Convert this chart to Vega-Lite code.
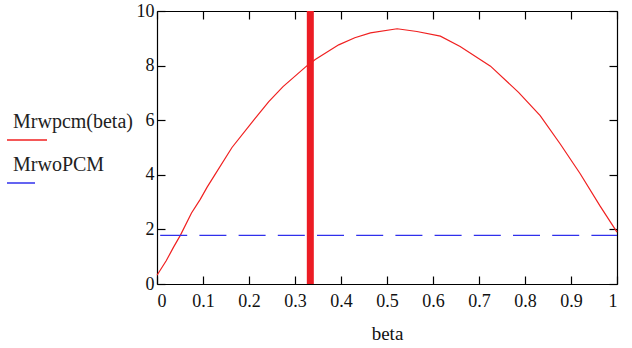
{
  "$schema": "https://vega.github.io/schema/vega-lite/v6.json",
  "width": 460,
  "height": 273,
  "autosize": "none",
  "padding": {"left": 157, "top": 11, "right": 15, "bottom": 64},
  "background": "white",
  "config": {
    "font": "Liberation Serif",
    "view": {"stroke": null},
    "axis": {
      "grid": false,
      "domainColor": "#000",
      "domainWidth": 1.2,
      "tickColor": "#000",
      "tickWidth": 1.2,
      "tickSize": -8,
      "labelFont": "Liberation Serif",
      "labelFontSize": 18,
      "labelColor": "#111",
      "titleFont": "Liberation Serif",
      "titleFontSize": 19,
      "titleFontWeight": "normal",
      "titleColor": "#111"
    }
  },
  "datasets": {
    "curve": [
      {"beta": 0.0, "M": 0.32, "series": "Mrwpcm(beta)"},
      {"beta": 0.02, "M": 0.85, "series": "Mrwpcm(beta)"},
      {"beta": 0.036, "M": 1.35, "series": "Mrwpcm(beta)"},
      {"beta": 0.051, "M": 1.79, "series": "Mrwpcm(beta)"},
      {"beta": 0.075, "M": 2.6, "series": "Mrwpcm(beta)"},
      {"beta": 0.094, "M": 3.1, "series": "Mrwpcm(beta)"},
      {"beta": 0.109, "M": 3.55, "series": "Mrwpcm(beta)"},
      {"beta": 0.125, "M": 3.98, "series": "Mrwpcm(beta)"},
      {"beta": 0.163, "M": 5.0, "series": "Mrwpcm(beta)"},
      {"beta": 0.212, "M": 6.04, "series": "Mrwpcm(beta)"},
      {"beta": 0.243, "M": 6.68, "series": "Mrwpcm(beta)"},
      {"beta": 0.274, "M": 7.23, "series": "Mrwpcm(beta)"},
      {"beta": 0.325, "M": 7.98, "series": "Mrwpcm(beta)"},
      {"beta": 0.344, "M": 8.22, "series": "Mrwpcm(beta)"},
      {"beta": 0.395, "M": 8.76, "series": "Mrwpcm(beta)"},
      {"beta": 0.43, "M": 9.02, "series": "Mrwpcm(beta)"},
      {"beta": 0.464, "M": 9.2, "series": "Mrwpcm(beta)"},
      {"beta": 0.522, "M": 9.35, "series": "Mrwpcm(beta)"},
      {"beta": 0.565, "M": 9.25, "series": "Mrwpcm(beta)"},
      {"beta": 0.616, "M": 9.08, "series": "Mrwpcm(beta)"},
      {"beta": 0.659, "M": 8.7, "series": "Mrwpcm(beta)"},
      {"beta": 0.725, "M": 7.98, "series": "Mrwpcm(beta)"},
      {"beta": 0.786, "M": 7.02, "series": "Mrwpcm(beta)"},
      {"beta": 0.833, "M": 6.17, "series": "Mrwpcm(beta)"},
      {"beta": 0.877, "M": 5.12, "series": "Mrwpcm(beta)"},
      {"beta": 0.92, "M": 4.04, "series": "Mrwpcm(beta)"},
      {"beta": 0.963, "M": 2.86, "series": "Mrwpcm(beta)"},
      {"beta": 1.0, "M": 1.9, "series": "Mrwpcm(beta)"}
    ],
    "flat": [
      {"beta": 0.0, "M": 1.78, "series": "MrwoPCM"},
      {"beta": 1.0, "M": 1.78, "series": "MrwoPCM"}
    ],
    "marker": [
      {"beta": 0.3333}
    ]
  },
  "layer": [
    {
      "data": {"name": "marker"},
      "mark": {"type": "rule", "color": "#ec1c24", "size": 7},
      "encoding": {
        "x": {"field": "beta", "type": "quantitative", "axis": null}
      }
    },
    {
      "data": {"name": "curve"},
      "mark": {"type": "line", "strokeWidth": 1.2},
      "encoding": {
        "x": {
          "field": "beta", "type": "quantitative",
          "scale": {"domain": [0, 1], "nice": false, "zero": false},
          "axis": {"orient": "bottom", "title": "beta", "values": [0, 0.1, 0.2, 0.3, 0.4, 0.5, 0.6, 0.7, 0.8, 0.9, 1], "format": "~g", "labelPadding": 16, "titlePadding": 14}
        },
        "y": {
          "field": "M", "type": "quantitative",
          "scale": {"domain": [0, 10], "nice": false},
          "axis": {"orient": "left", "title": null, "values": [0, 2, 4, 6, 8, 10], "labelPadding": 11}
        },
        "color": {
          "field": "series", "type": "nominal",
          "scale": {"domain": ["Mrwpcm(beta)", "MrwoPCM"], "range": ["#f02020", "#3030ec"]},
          "legend": {
            "orient": "none", "legendX": -150, "legendY": 108,
            "title": null, "symbolType": "stroke", "symbolSize": 1600, "symbolStrokeWidth": 1.5,
            "labelFont": "Liberation Serif", "labelFontSize": 20, "labelColor": "#222",
            "labelOffset": -36, "rowPadding": 12,
            "encode": {
              "labels": {"update": {"dy": {"value": -18}}},
              "symbols": {"update": {
                "size": {"signal": "datum.value === 'MrwoPCM' ? 784 : 1600"},
                "x": {"signal": "datum.value === 'MrwoPCM' ? 14 : 20"}
              }}
            }
          }
        }
      }
    },
    {
      "data": {"name": "flat"},
      "mark": {"type": "line", "strokeWidth": 1.4, "strokeDash": [27, 12.2], "strokeDashOffset": 36},
      "encoding": {
        "x": {
          "field": "beta", "type": "quantitative",
          "axis": {"orient": "top", "title": null, "labels": false, "values": [0, 0.1, 0.2, 0.3, 0.4, 0.5, 0.6, 0.7, 0.8, 0.9, 1]}
        },
        "y": {
          "field": "M", "type": "quantitative",
          "axis": {"orient": "right", "title": null, "labels": false, "values": [0, 2, 4, 6, 8, 10]}
        },
        "color": {"field": "series", "type": "nominal"}
      }
    }
  ]
}
